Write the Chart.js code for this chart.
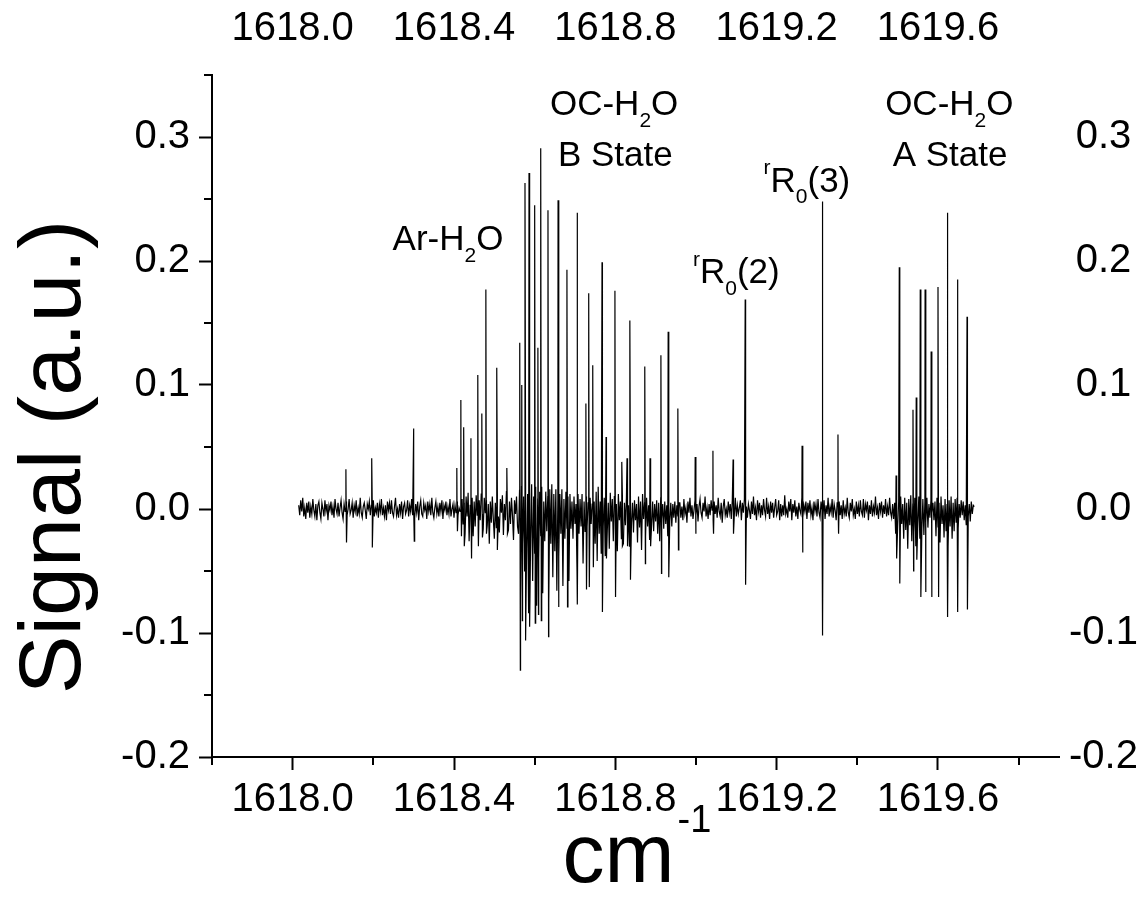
<!DOCTYPE html>
<html>
<head>
<meta charset="utf-8">
<script src="https://cdn.jsdelivr.net/npm/chart.js@4.4.0/dist/chart.umd.min.js"></script>
<style>
html, body { margin: 0; padding: 0; background: #fff; }
</style>
</head>
<body>
<canvas id="spec" width="1146" height="906"></canvas>
<script>
// axis ticks
var xMajor = [1618.0, 1618.4, 1618.8, 1619.2, 1619.6];
var xMinor = [1617.8, 1618.2, 1618.6, 1619.0, 1619.4, 1619.8];
var yMajor = [-0.2, -0.1, 0.0, 0.1, 0.2, 0.3];
var yMinor = [-0.15, -0.05, 0.05, 0.15, 0.25, 0.35];

// absorption lines: position (cm-1), peak top, dip next to it (a.u.)
var linePos = [1618.132, 1618.196, 1618.300, 1618.407, 1618.417, 1618.424, 1618.442, 1618.459, 1618.469, 1618.479,
  1618.506, 1618.531, 1618.563, 1618.568, 1618.576, 1618.586, 1618.600, 1618.608, 1618.615, 1618.633,
  1618.658, 1618.680, 1618.705, 1618.727, 1618.734, 1618.744, 1618.767, 1618.777, 1618.799, 1618.816,
  1618.829, 1618.836, 1618.873, 1618.886, 1618.913, 1618.931, 1618.955, 1618.998, 1619.042, 1619.092,
  1619.122, 1619.263, 1619.313, 1619.352, 1619.496, 1619.504, 1619.538, 1619.546, 1619.556, 1619.568,
  1619.583, 1619.600, 1619.623, 1619.648, 1619.672];
var lineTop = [0.032, 0.041, 0.065, 0.033, 0.088, 0.066, 0.057, 0.108, 0.077, 0.177,
  0.114, 0.033, 0.134, 0.100, 0.263, 0.271, 0.245, 0.130, 0.291, 0.241,
  0.249, 0.193, 0.239, 0.085, 0.174, 0.116, 0.199, 0.058, 0.176, 0.038,
  0.041, 0.152, 0.115, 0.041, 0.124, 0.143, 0.081, 0.042, 0.047, 0.040,
  0.169, 0.051, 0.248, 0.060, 0.027, 0.195, 0.080, 0.090, 0.177, 0.177,
  0.127, 0.179, 0.239, 0.185, 0.155];
var lineDip = [-0.027, -0.031, -0.026, -0.018, -0.022, -0.030, -0.040, -0.030, -0.023, -0.020,
  -0.033, -0.020, -0.130, -0.090, -0.106, -0.095, -0.092, -0.085, -0.090, -0.103,
  -0.079, -0.079, -0.077, -0.065, -0.063, -0.047, -0.083, -0.040, -0.071, -0.030,
  -0.030, -0.057, -0.044, -0.030, -0.052, -0.055, -0.033, -0.020, -0.020, -0.020,
  -0.061, -0.035, -0.102, -0.020, -0.040, -0.060, -0.050, -0.041, -0.071, -0.067,
  -0.071, -0.071, -0.087, -0.083, -0.081];

// baseline between the lines, in 1e-3 a.u., one value every 0.0025 cm-1 from each start
var noiseStep = 0.0025;
var noiseStart = [1618.015, 1618.42, 1618.56, 1618.75, 1618.96, 1619.49];
var noiseA = [3,-5,7,-2,9,-6,1,-8,5,-3,6,-7,2,-4,8,-1,-6,4,-9,3,
  6,-3,-8,5,0,-6,7,-2,4,-9,3,-1,6,-5,2,-7,8,0,-4,5,
  -6,1,7,-3,-8,4,-2,6,-5,0,8,-4,-1,5,-7,3,-2,7,-6,1,
  -4,9,-3,-7,2,5,-1,-8,4,0,6,-5,3,-2,7,-6,1,-3,5,-7,
  4,-2,8,-5,1,-6,3,-9,6,-1,5,-4,7,-3,-6,2,9,-5,0,-7,
  4,-3,6,-8,2,5,-4,-1,7,-6,3,-2,8,-5,1,-7,4,-3,6,-9,
  2,7,-4,-6,5,-1,3,-8,6,-2,4,-5,9,-3,-7,1,6,-4,2,-6,
  5,-2,7,-8,3,-1,6,-5,2,-4,8,-6,0,4,-7,3,-3,6,-5,1,
  -2,4];
var noiseB = [8,-12,5,-20,10,-6,13,-26,3,-10,9,-22,6,-14,11,-5,-18,7,-9,12,
  -4,-16,9,-3,7,-13,4,-28,6,-11,10,-8,-24,5,-15,12,-6,-19,8,-3,
  11,-21,4,-9,14,-7,-17,6,-12,9,-5,-25,7,-4,10,-14];
var noiseC = [-20,15,-72,18,-28,10,-50,22,-32,12,-84,16,-24,20,-58,10,-36,18,-78,8,
  -40,14,-22,18,-68,6,-26,14,-18,10,-76,16,-28,20,-55,12,-34,16,-66,8,
  -38,12,-20,16,-62,8,-24,14,-16,10,-58,12,-16,6,-24,10,-12,4,-50,12,
  -20,8,-14,12,-44,6,-18,10,-14,5,-22,9,-12,4,-16,6];
var noiseD = [-28,14,-42,18,-20,6,-36,16,-14,9,-38,11,-18,5,-32,13,-10,8,-26,10,
  -16,4,-34,12,-9,6,-24,11,-28,5,-13,9,-21,3,-30,8,-11,5,-19,7,
  -9,4,-27,10,-15,6,-33,12,-8,5,-22,9,-14,3,-25,8,-12,6,-18,4,
  -10,7,-20,5,-26,9,-8,4,-16,6,-12,3,-22,8,-9,5,-14,4,-7,6,
  -11,3,-6,5];
var noiseE = [5,-7,2,-9,8,-4,1,-11,6,-3,9,-6,3,-8,-1,7,-5,4,-10,2,
  8,-3,-7,5,-2,10,-6,1,-8,4,-5,7,-1,-9,6,-4,3,-7,9,-2,
  -6,5,-11,2,8,-5,0,-7,6,-3,4,-8,7,-2,-5,9,-6,3,-4,1,
  7,-9,5,-3,8,-6,2,-7,4,-1,-8,6,-4,10,-5,1,-9,7,-2,5,
  -7,3,-5,8,-1,-6,9,-4,2,-8,6,-3,5,-7,1,8,-5,-2,7,-9,
  4,-6,3,-5,11,-4,0,-7,6,-2,8,-9,4,-3,7,-6,2,-8,5,-1,
  -4,9,-7,3,-2,6,-8,5,-3,7,-5,1,-9,6,-2,4,-6,8,-3,-7,
  6,-1,-5,7,-8,3,-4,9,-6,2,-3,8,-7,4,-1,-9,5,-2,6,-5,
  3,-8,7,-4,1,-6,9,-3,-7,5,-2,8,-5,0,-8,6,-4,3,-6,7,
  -2,-5,8,-7,4,-1,6,-9,3,-4,7,-6,2,-3,10,-5,1,-8,5,-2,
  6,-7,3,-4,8,-6,2,-5,9,-3,-7,4];
var noiseF = [-8,5,-20,8,-14,6,-28,10,-12,4,-24,9,-17,5,-32,8,-13,11,-26,4,
  -19,9,-30,7,-11,10,-24,3,-16,8,-21,6,-10,9,-15,4,-7,7,-3,5,
  -9,6,-22,9,-15,5,-27,10,-12,3,-23,8,-18,4,-30,7,-14,10,-24,5,
  -18,8,-11,9,-16,4,-7,7,-5,6,-9,3,-13,5,-6,4,-10,6,-4,3,
  2];
var noiseSegs = [noiseA, noiseB, noiseC, noiseD, noiseE, noiseF];

// labels: "_" = subscript, "^" = superscript for the next character
var annoText = ["OC-H_2O", "B State", "Ar-H_2O", "^rR_0(2)", "^rR_0(3)", "OC-H_2O", "A State"];
var annoX = [1618.797, 1618.800, 1618.385, 1619.100, 1619.275, 1619.628, 1619.630];
var annoY = [0.318, 0.277, 0.209, 0.182, 0.256, 0.318, 0.277];

var pts = [];
for (var s = 0; s < noiseSegs.length; s++) {
  for (var i = 0; i < noiseSegs[s].length; i++) {
    pts.push({ x: noiseStart[s] + i * noiseStep, y: noiseSegs[s][i] / 1000 });
  }
}
for (var k = 0; k < linePos.length; k++) {
  pts.push({ x: linePos[k], y: lineTop[k] });
  pts.push({ x: linePos[k] + 0.0015, y: lineDip[k] });
}
pts.sort(function (a, b) { return a.x - b.x; });

var FONT = '"Liberation Sans", Arial, sans-serif';

function isIn(list, v) {
  for (var i = 0; i < list.length; i++) if (Math.abs(list[i] - v) < 1e-6) return true;
  return false;
}
function tickObjs(major, minor) {
  var t = [];
  major.forEach(function (v) { t.push({ value: v, major: true }); });
  (minor || []).forEach(function (v) { t.push({ value: v, major: false }); });
  t.sort(function (a, b) { return a.value - b.value; });
  return t;
}

function drawRuns(ctx, str, cx, base, size) {
  var runs = [];
  for (var i = 0; i < str.length; i++) {
    var c = str[i];
    if ((c == "_" || c == "^") && i + 1 < str.length) {
      runs.push({ t: str[i + 1], k: c });
      i++;
    } else {
      runs.push({ t: c, k: "" });
    }
  }
  var small = Math.round(size * 0.6);
  var w = 0;
  runs.forEach(function (r) {
    ctx.font = (r.k ? small : size) + "px " + FONT;
    r.w = ctx.measureText(r.t).width;
    w += r.w;
  });
  var x = cx - w / 2;
  ctx.textAlign = "left";
  ctx.textBaseline = "alphabetic";
  runs.forEach(function (r) {
    ctx.font = (r.k ? small : size) + "px " + FONT;
    var dy = r.k == "_" ? size * 0.34 : (r.k == "^" ? -size * 0.5 : 0);
    ctx.fillText(r.t, x, base + dy);
    x += r.w;
  });
}

var extras = {
  id: "extras",
  afterDraw: function (chart) {
    var ctx = chart.ctx;
    var xs = chart.scales.x, ys = chart.scales.y;
    var area = chart.chartArea;
    ctx.save();
    ctx.strokeStyle = "#000";
    ctx.lineWidth = 2;
    // minor ticks, shorter than the major ones
    xMinor.forEach(function (v) {
      var px = Math.round(xs.getPixelForValue(v));
      ctx.beginPath(); ctx.moveTo(px, area.bottom); ctx.lineTo(px, area.bottom + 8); ctx.stroke();
    });
    yMinor.forEach(function (v) {
      var py = Math.round(ys.getPixelForValue(v));
      ctx.beginPath(); ctx.moveTo(area.left - 8, py); ctx.lineTo(area.left, py); ctx.stroke();
    });
    ctx.fillStyle = "#000";
    for (var i = 0; i < annoText.length; i++) {
      drawRuns(ctx, annoText[i], xs.getPixelForValue(annoX[i]), ys.getPixelForValue(annoY[i]), 35);
    }
    // axis titles
    ctx.save();
    ctx.translate(80, (area.top + area.bottom) / 2 + 41);
    ctx.rotate(-Math.PI / 2);
    ctx.font = "88px " + FONT;
    ctx.textAlign = "center";
    ctx.textBaseline = "alphabetic";
    ctx.fillText("Signal (a.u.)", 0, 0);
    ctx.restore();
    ctx.font = "84px " + FONT;
    var cmW = ctx.measureText("cm").width;
    ctx.font = "38px " + FONT;
    var supW = ctx.measureText("-1").width;
    var x0 = (area.left + area.right) / 2 - (cmW + supW) / 2;
    ctx.font = "84px " + FONT;
    ctx.textAlign = "left";
    ctx.fillText("cm", x0, 882);
    ctx.font = "38px " + FONT;
    ctx.fillText("-1", x0 + cmW + 3, 832);
    ctx.restore();
  }
};

var tickFont = { family: FONT, size: 40 };

new Chart(document.getElementById("spec"), {
  type: "line",
  data: {
    datasets: [{
      data: pts,
      borderColor: "#000",
      borderWidth: 1.2,
      pointRadius: 0,
      tension: 0,
      fill: false
    }]
  },
  options: {
    responsive: false,
    animation: false,
    devicePixelRatio: 1,
    layout: { padding: { left: 102, right: 0, top: 0, bottom: 0 } },
    plugins: { legend: { display: false }, tooltip: { enabled: false } },
    scales: {
      x: {
        type: "linear", position: "bottom", min: 1617.8, max: 1619.9,
        afterBuildTicks: function (sc) { sc.ticks = tickObjs(xMajor, xMinor); },
        afterFit: function (sc) { sc.height = 149; },
        ticks: {
          color: "#000", font: tickFont, padding: 6, maxRotation: 0, autoSkip: false,
          callback: function (v) { return isIn(xMajor, v) ? v.toFixed(1) : ""; }
        },
        grid: {
          drawOnChartArea: false, tickLength: 13, tickWidth: 2,
          tickColor: function (c) { return c.tick && c.tick.major ? "#000" : "rgba(0,0,0,0)"; }
        },
        border: { display: true, color: "#000", width: 2 }
      },
      x2: {
        type: "linear", position: "top", min: 1617.8, max: 1619.9,
        afterBuildTicks: function (sc) { sc.ticks = tickObjs(xMajor); },
        afterFit: function (sc) { sc.height = 75; },
        ticks: {
          color: "#000", font: tickFont, padding: 22, maxRotation: 0, autoSkip: false,
          callback: function (v) { return v.toFixed(1); }
        },
        grid: { display: false, drawTicks: false },
        border: { display: false }
      },
      y: {
        type: "linear", position: "left", min: -0.2, max: 0.35,
        afterBuildTicks: function (sc) { sc.ticks = tickObjs(yMajor, yMinor); },
        afterFit: function (sc) { sc.width = 110; },
        ticks: {
          color: "#000", font: tickFont, padding: 9, autoSkip: false,
          callback: function (v) { return isIn(yMajor, v) ? v.toFixed(1) : ""; }
        },
        grid: {
          drawOnChartArea: false, tickLength: 13, tickWidth: 2,
          tickColor: function (c) { return c.tick && c.tick.major ? "#000" : "rgba(0,0,0,0)"; }
        },
        border: { display: true, color: "#000", width: 2 }
      },
      y2: {
        type: "linear", position: "right", min: -0.2, max: 0.35,
        afterBuildTicks: function (sc) { sc.ticks = tickObjs(yMajor); },
        afterFit: function (sc) { sc.width = 87; },
        ticks: {
          color: "#000", font: tickFont, padding: 10, autoSkip: false, crossAlign: "center",
          callback: function (v) { return v.toFixed(1); }
        },
        grid: { display: false, drawTicks: false },
        border: { display: false }
      }
    }
  },
  plugins: [extras]
});
</script>
</body>
</html>
